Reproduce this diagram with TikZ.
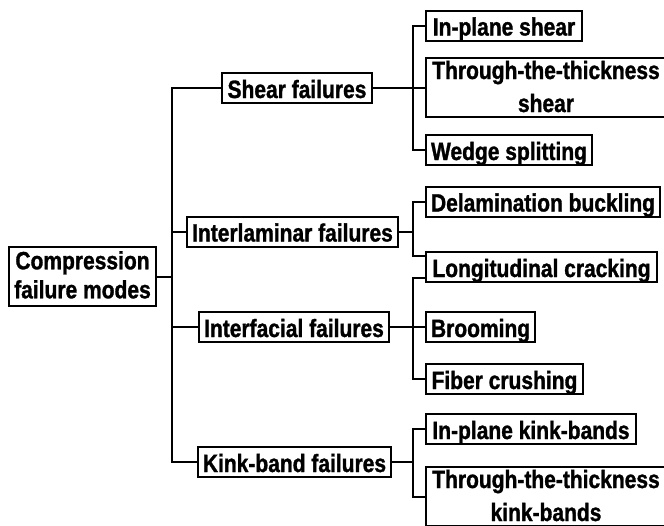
\documentclass[tikz,border=0pt]{standalone}
\usepackage{fontspec}
\setmainfont{Liberation Sans}[FakeStretch=0.84, BoldFeatures={FakeBold=1.2}]
\usetikzlibrary{positioning}
\tikzset{
  mode/.style={rectangle, draw=black, line width=2pt, fill=white, inner xsep=5pt, inner ysep=0pt,
               minimum height=30pt, text height=25pt, text depth=5pt, align=center,
               font=\bfseries\fontsize{25}{33}\selectfont},
  twoline/.style={text height=54pt, text depth=5pt, minimum height=59pt},
  link/.style={line width=2pt, draw=black}
}
\begin{document}
\begin{tikzpicture}[x=1pt, y=-1pt]
\clip (0,0) rectangle (664,525);
\fill[white] (0,0) rectangle (664,525);

% first level
\node[mode, twoline, minimum width=147pt, text height=48.6pt, font=\bfseries\fontsize{25}{29}\selectfont] (root) at (82.5,276.5) {Compression\\failure modes};
\node[mode, minimum width=150pt] (shear) at (297,88) {Shear failures};
\node[mode, minimum width=211pt] (interlam) at (292.5,231.5) {Interlaminar failures};
\node[mode, minimum width=190pt] (interfac) at (294,327) {Interfacial failures};
\node[mode, minimum width=193pt] (kink) at (294.5,462) {Kink-band failures};

% second level
\node[mode, anchor=west, minimum width=156pt] (inplane) at (425,25.5) {In-plane shear};
\node[mode, twoline, minimum width=240pt, below=15.5pt of inplane.south west, anchor=north west] (tttshear) {Through-the-thickness\\shear};
\node[mode, minimum width=166pt, below=16pt of tttshear.south west, anchor=north west] (wedge) {Wedge splitting};
\node[mode, minimum width=231pt, below=19.5pt of wedge.south west, anchor=north west] (delam) {Delamination buckling};
\node[mode, minimum width=231pt, below=33.5pt of delam.south west, anchor=north west] (longit) {Longitudinal cracking};
\node[mode, minimum width=109pt, below=28pt of longit.south west, anchor=north west] (broom) {Brooming};
\node[mode, minimum width=157pt, below=20pt of broom.south west, anchor=north west] (fiber) {Fiber crushing};
\node[mode, minimum width=210pt, below=18pt of fiber.south west, anchor=north west] (inkink) {In-plane kink-bands};
\node[mode, twoline, minimum width=240pt, below=21pt of inkink.south west, anchor=north west] (tttkink) {Through-the-thickness\\kink-bands};

% buses
\coordinate (lbus) at (172,0);
\coordinate (rbus) at (413,0);
\coordinate (lup) at ([yshift=-5pt]longit.north west);
\coordinate (llow) at ([yshift=5pt]longit.south west);

\draw[link] (root.east) -- (root -| lbus);
\draw[link] (shear.west) -| (lbus |- kink) -- (kink.west);
\draw[link] (interlam.west) -- (interlam -| lbus);
\draw[link] (interfac.west) -- (interfac -| lbus);

\draw[link] (shear.east) -- (shear -| tttshear.west);
\draw[link] (inplane.west) -| (rbus |- shear) |- (wedge.west);
\draw[link] (interlam.east) -- (interlam -| rbus);
\draw[link] (delam.west) -| (rbus |- lup) -- (lup);
\draw[link] (interfac.east) -- (interfac -| broom.west);
\draw[link] (llow) -| (rbus |- fiber) -- (fiber.west);
\draw[link] (kink.east) -- (kink -| rbus);
\draw[link] (inkink.west) -| (rbus |- tttkink) -- (tttkink.west);
\end{tikzpicture}
\end{document}
